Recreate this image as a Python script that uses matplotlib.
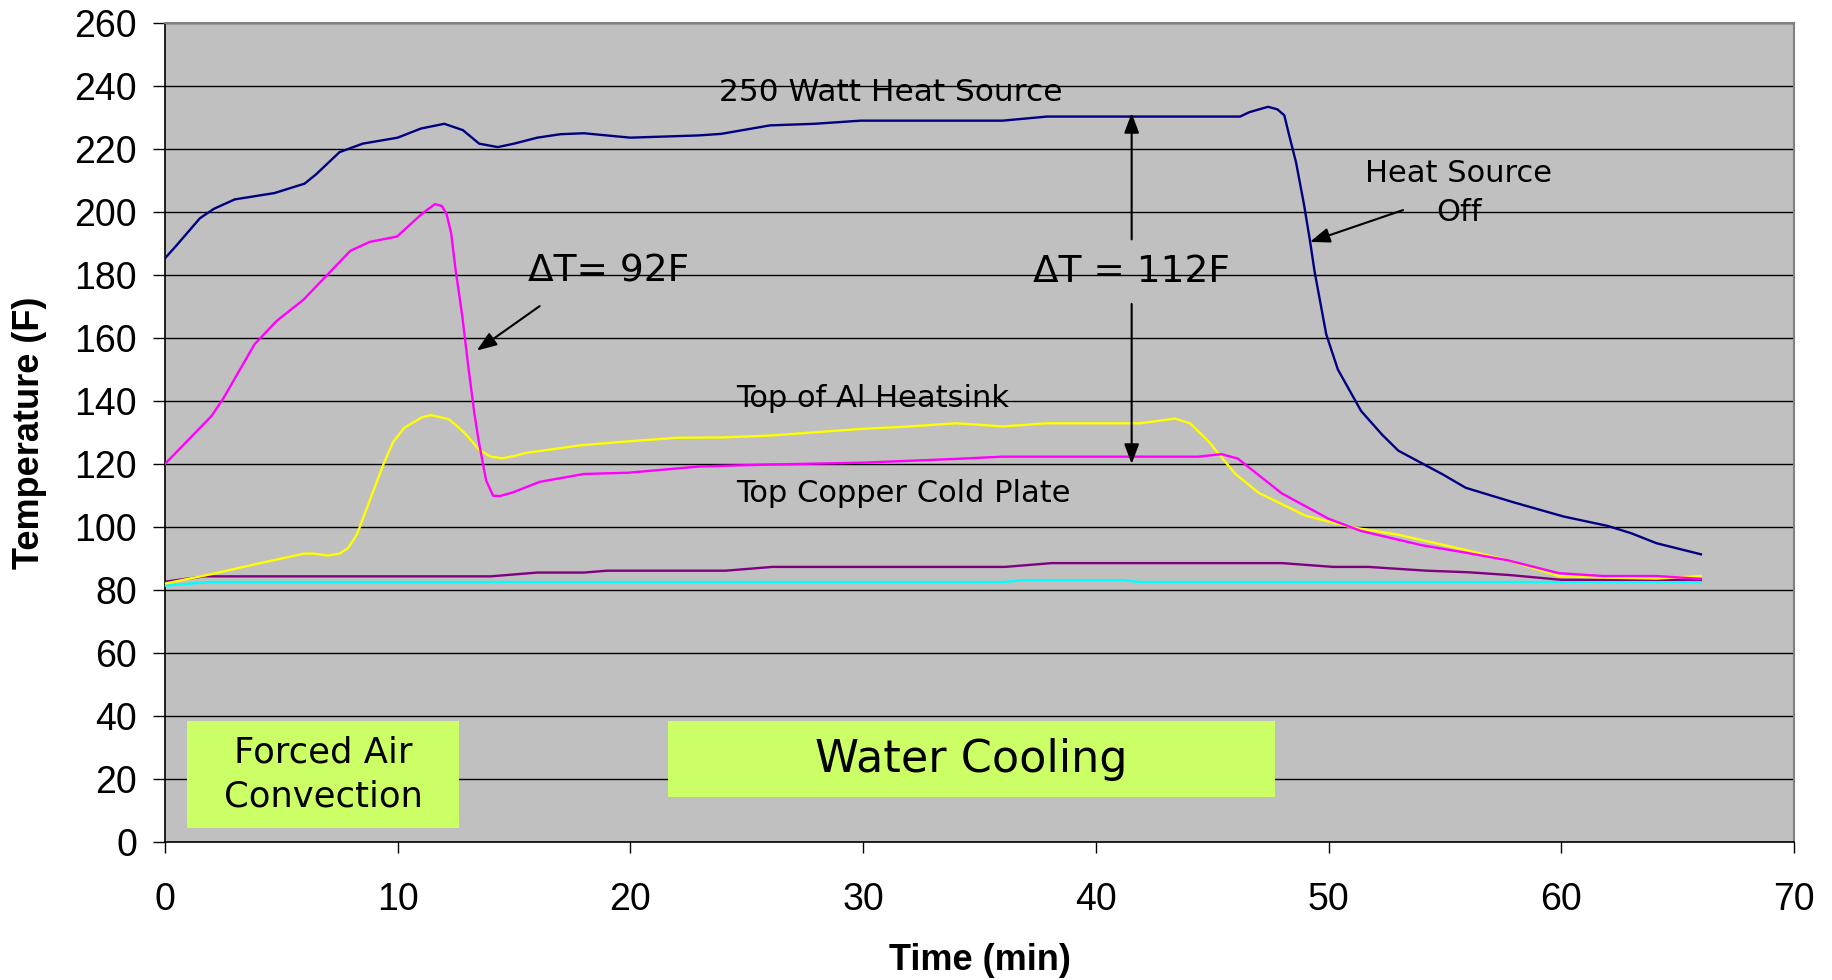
import numpy as np
import matplotlib
matplotlib.use('Agg')
import matplotlib.pyplot as plt
from matplotlib.patches import Rectangle

# 250 W heat source (navy)
source_t = [0, 0.45, 1.5, 2.1, 3, 4.7, 6, 6.5, 7.5, 8.5, 10, 11, 12, 12.8, 13.5, 14.3,
            15, 16, 17, 18, 20, 22.9, 23.9, 26, 27.9, 29.9, 36, 37.9, 46.2, 46.6, 47.4,
            47.8, 48.1, 48.3, 48.6, 48.95, 49.2, 49.4, 49.9, 50.4, 51.4, 52.3, 53.0,
            54.9, 55.9, 58, 60.1, 62, 63, 64.1, 66]
source_y = [185.3, 189, 198, 201, 204, 206, 209, 212, 219, 221.7, 223.6, 226.5, 228, 226,
            221.7, 220.6, 221.7, 223.6, 224.7, 225, 223.6, 224.3, 224.8, 227.5, 228, 229,
            229, 230.3, 230.3, 231.7, 233.4, 232.6, 230.7, 224.6, 215.9, 202.2, 191,
            181.1, 161.2, 150, 136.8, 129.3, 124.2, 116.7, 112.4, 107.7, 103.3, 100.3,
            98, 94.8, 91.3]

# top copper cold plate (magenta)
copper_t = [0, 2.0, 2.5, 3.85, 4.8, 5.96, 7.97, 8.8, 9.97, 11.04, 11.6, 11.9, 12.1, 12.3,
            12.48, 12.77, 13.05, 13.3, 13.5, 13.8, 14.1, 14.4, 14.97, 16.1, 18.0, 19.9,
            23, 26, 30, 34, 36, 44.4, 45.4, 46.1, 48, 50, 51.4, 54, 55.9, 57.7, 59.9,
            61.8, 64.1, 66]
copper_y = [120, 135.2, 140.7, 158, 165.4, 172.2, 187.7, 190.5, 192.2, 199.4, 202.5, 201.9,
            199.4, 193.2, 182.1, 167.3, 150, 135.8, 126.5, 114.8, 109.9, 109.8, 111,
            114.3, 116.8, 117.2, 119.2, 119.8, 120.4, 121.6, 122.3, 122.3, 123.1, 121.7,
            110.6, 102.6, 98.7, 94.2, 91.8, 89.4, 85.3, 84.4, 84.4, 83.5]

# top of Al heatsink (yellow)
heatsink_t = [0, 1.93, 4.04, 5.96, 6.4, 7.0, 7.5, 7.87, 8.25, 8.83, 9.4, 9.8, 10.27, 11.04,
              11.43, 12.2, 12.86, 13.5, 14.0, 14.5, 15.07, 15.5, 16.2, 17.85, 19.8, 22,
              23.9, 26, 29.9, 32, 34, 36, 37.9, 41.9, 43.4, 44.05, 44.8, 46, 47, 49, 50.9,
              53, 56, 57.7, 59.9, 61.8, 64.1, 66]
heatsink_y = [82, 84.9, 88.4, 91.5, 91.5, 90.9, 91.5, 93.3, 97.6, 109, 120.1, 126.9, 131.4,
              134.8, 135.5, 134.2, 130, 124.5, 122.3, 121.8, 122.6, 123.5, 124.2, 125.9,
              127.1, 128.3, 128.4, 129, 131.1, 131.9, 132.9, 131.9, 132.9, 132.9, 134.4,
              132.9, 127.5, 116.8, 110.8, 103.6, 100, 97.5, 92.5, 89.4, 84.4, 83.9, 83.6,
              84.4]

# purple
purple_t = [0, 1.7, 14, 16, 18, 19, 24.1, 26.1, 36.1, 38.1, 48, 50.2, 51.7, 54.2, 56,
            57.8, 60, 66]
purple_y = [82.6, 84.3, 84.3, 85.5, 85.5, 86.1, 86.1, 87.3, 87.3, 88.5, 88.5, 87.3, 87.3,
            86.1, 85.6, 84.7, 83.2, 83.2]

# cyan
cyan_t = [0, 1.9, 36, 36.9, 41.2, 41.9, 66]
cyan_y = [81.3, 82.5, 82.5, 83.1, 83.1, 82.5, 82.5]

x_ticks = list(range(0, 71, 10))
y_ticks = list(range(0, 261, 20))

tick_font = 'Liberation Sans'
note_font = 'DejaVu Sans'

fig = plt.figure(figsize=(18.33, 9.8), dpi=100)
ax = fig.add_axes([0.090, 0.141, 0.8887, 0.8355])
ax.set_facecolor('#C0C0C0')

ax.plot(cyan_t, cyan_y, color='#00FFFF', lw=1.7, zorder=4)
ax.plot(purple_t, purple_y, color='#800080', lw=1.7, zorder=4)
ax.plot(heatsink_t, heatsink_y, color='#FFFF00', lw=1.7, zorder=4)
ax.plot(copper_t, copper_y, color='#FF00FF', lw=1.7, zorder=5)
ax.plot(source_t, source_y, color='#000080', lw=1.7, zorder=5)

ax.set_xlim(0, 70)
ax.set_ylim(0, 260)
ax.set_xticks(x_ticks)
ax.set_yticks(y_ticks)
ax.yaxis.grid(True, color='black', lw=1.0, zorder=1)
ax.set_axisbelow(True)
ax.tick_params(axis='y', direction='out', length=9, width=1, pad=11, labelsize=27)
ax.tick_params(axis='x', direction='out', length=8, width=1, pad=21, labelsize=27)
for lab in ax.get_xticklabels() + ax.get_yticklabels():
    lab.set_family(tick_font)
for side in ['top', 'right']:
    ax.spines[side].set_color('#808080')
    ax.spines[side].set_linewidth(1.5)
for side in ['left', 'bottom']:
    ax.spines[side].set_color('black')
    ax.spines[side].set_linewidth(1.2)

ax.set_xlabel('Time (min)', fontsize=26, fontweight='bold', family=tick_font, labelpad=18)
ax.set_ylabel('Temperature (F)', fontsize=26, fontweight='bold', family=tick_font, labelpad=20)

# shaded boxes
ax.add_patch(Rectangle((0.95, 4.5), 11.7, 33.8, facecolor='#CCFF66', edgecolor='none', zorder=3))
ax.add_patch(Rectangle((21.6, 14.1), 26.1, 24.2, facecolor='#CCFF66', edgecolor='none', zorder=3))
ax.text(6.8, 21.4, 'Forced Air\nConvection', ha='center', va='center', fontsize=25.5,
        family=note_font, linespacing=1.35, zorder=6)
ax.text(34.65, 26.2, 'Water Cooling', ha='center', va='center', fontsize=32,
        family=note_font, zorder=6)

# labels on the curves
ax.text(23.8, 238, '250 Watt Heat Source', ha='left', va='center', fontsize=22.5, family=note_font, zorder=6)
ax.text(24.56, 140.8, 'Top of Al Heatsink', ha='left', va='center', fontsize=22, family=note_font, zorder=6)
ax.text(24.56, 110.7, 'Top Copper Cold Plate', ha='left', va='center', fontsize=22, family=note_font, zorder=6)
ax.text(55.6, 206, 'Heat Source\nOff', ha='center', va='center', fontsize=22, family=note_font,
        linespacing=1.4, zorder=6)
ax.text(15.6, 181, 'ΔT= 92F', ha='left', va='center', fontsize=27, family=note_font, zorder=6)
ax.text(41.54, 181, 'ΔT = 112F', ha='center', va='center', fontsize=27, family=note_font, zorder=6)

arrow = dict(arrowstyle='-|>,head_length=1.2,head_width=0.45', color='black', lw=1.5,
             shrinkA=0, shrinkB=0)
ax.annotate('', xy=(13.4, 156), xytext=(16.1, 170.1), arrowprops=arrow, zorder=6)
ax.annotate('', xy=(49.2, 190.5), xytext=(53.2, 200.6), arrowprops=arrow, zorder=6)
ax.annotate('', xy=(41.54, 231.4), xytext=(41.54, 191.3), arrowprops=arrow, zorder=6)
ax.annotate('', xy=(41.54, 120), xytext=(41.54, 170.8), arrowprops=arrow, zorder=6)

fig.savefig('out.png', dpi=100, facecolor='white')
